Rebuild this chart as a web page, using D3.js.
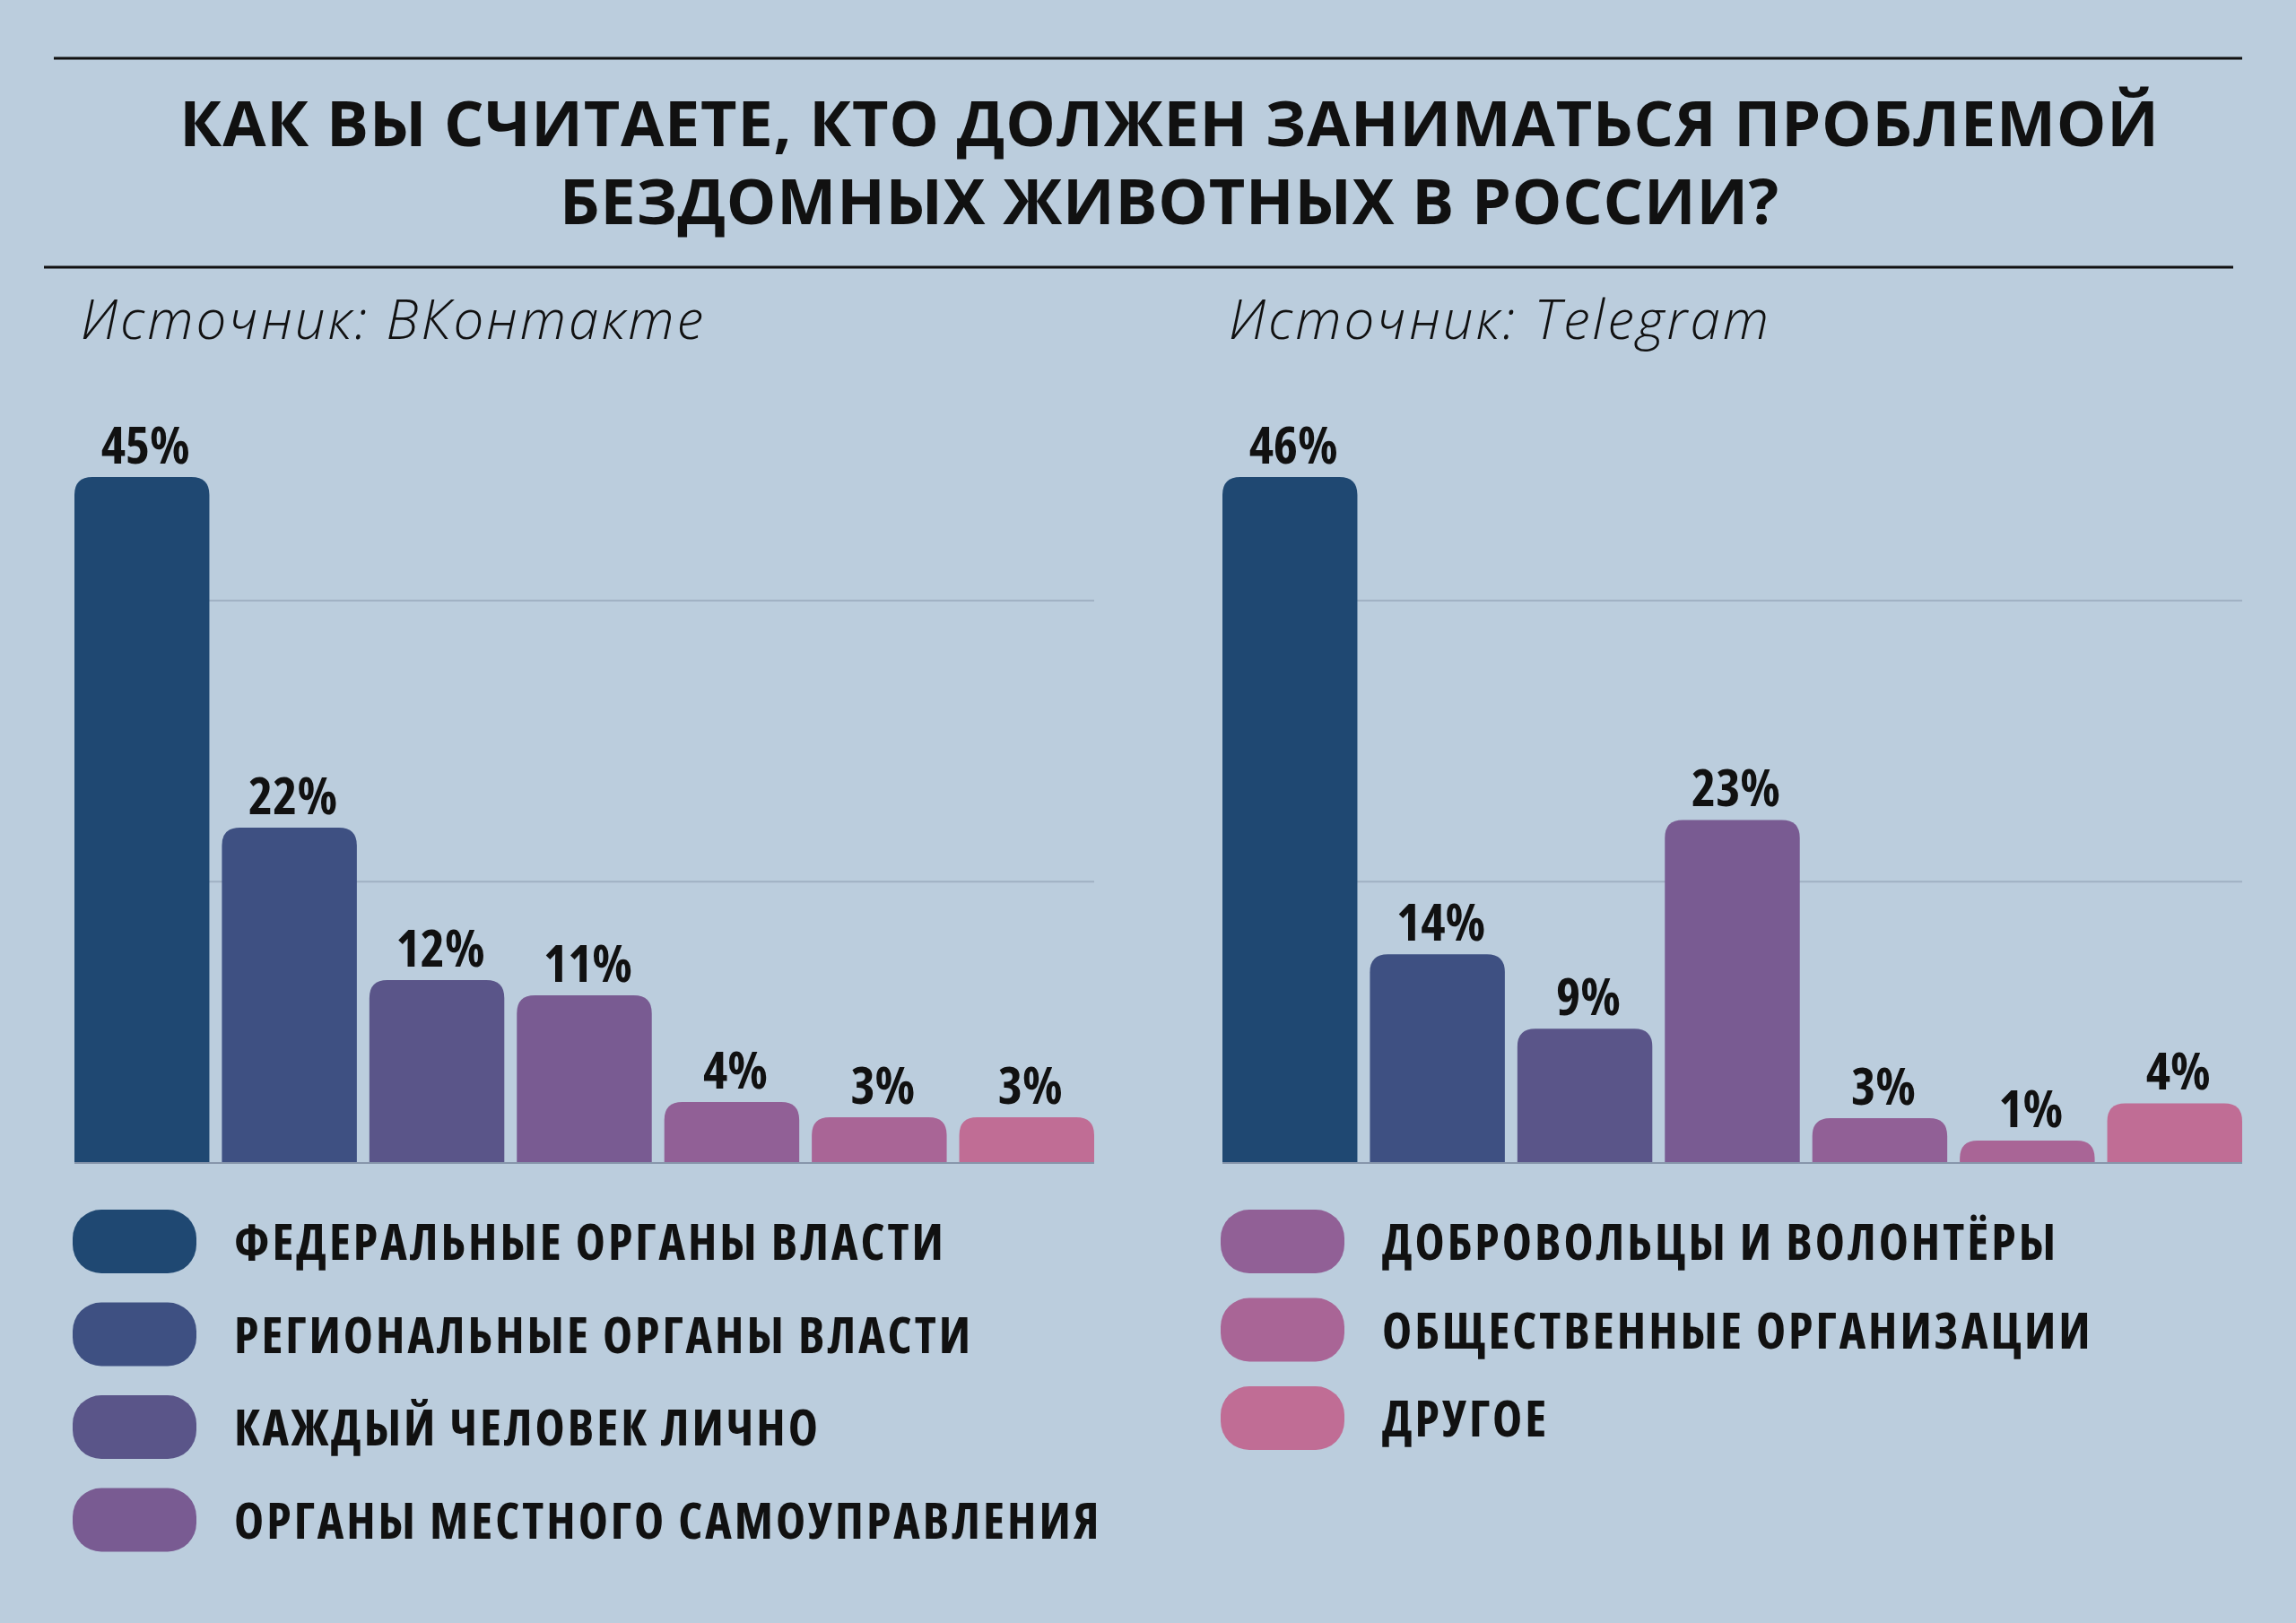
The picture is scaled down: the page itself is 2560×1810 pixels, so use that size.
<!DOCTYPE html>
<html>
<head>
<meta charset="utf-8">
<script src="https://cdn.jsdelivr.net/npm/d3@7"></script>
<style>
  body { margin: 0; background: #bbcddd; }
  svg { display: block; }
</style>
</head>
<body>
<div id="chart"></div>
<script>
// data
const categories = [
  "ФЕДЕРАЛЬНЫЕ ОРГАНЫ ВЛАСТИ",
  "РЕГИОНАЛЬНЫЕ ОРГАНЫ ВЛАСТИ",
  "КАЖДЫЙ ЧЕЛОВЕК ЛИЧНО",
  "ОРГАНЫ МЕСТНОГО САМОУПРАВЛЕНИЯ",
  "ДОБРОВОЛЬЦЫ И ВОЛОНТЁРЫ",
  "ОБЩЕСТВЕННЫЕ ОРГАНИЗАЦИИ",
  "ДРУГОЕ"
];
const colors = ["#1f4872", "#3e5082", "#5a5589", "#795b92", "#916096", "#a96596", "#c06d95"];
const vkValues = [45, 22, 12, 11, 4, 3, 3];
const tgValues = [46, 14, 9, 23, 3, 1, 4];
const sourceNames = ["ВКонтакте", "Telegram"];
const titleLines = [
  "КАК ВЫ СЧИТАЕТЕ, КТО ДОЛЖЕН ЗАНИМАТЬСЯ ПРОБЛЕМОЙ",
  "БЕЗДОМНЫХ ЖИВОТНЫХ В РОССИИ?"
];
const legendColumns = [[0, 1, 2, 3], [4, 5, 6]];

const W = 2560, H = 1810;
const condensed = "'Open Sans', 'Liberation Sans Narrow', sans-serif";

const svg = d3.select("#chart").append("svg")
  .attr("width", W)
  .attr("height", H);

svg.append("rect").attr("width", W).attr("height", H).attr("fill", "#bbcddd");

// title + rules
svg.append("line").attr("x1", 60).attr("x2", 2500).attr("y1", 65).attr("y2", 65)
  .attr("stroke", "#111").attr("stroke-width", 3);
svg.append("line").attr("x1", 49).attr("x2", 2490).attr("y1", 298).attr("y2", 298)
  .attr("stroke", "#111").attr("stroke-width", 3);

svg.selectAll(".title")
  .data(titleLines)
  .enter()
  .append("text")
  .attr("class", "title")
  .attr("x", 1304)
  .attr("y", (d, i) => 163 + i * 87)
  .attr("text-anchor", "middle")
  .style("font-family", "'Open Sans', sans-serif")
  .style("font-weight", "bold")
  .style("font-size", "70px")
  .style("letter-spacing", "0.8px")
  .style("fill", "#111")
  .text(d => d);

// panels
const panels = [
  { name: sourceNames[0], values: vkValues, x0: 83, x1: 1220, rowStep: 103.5 },
  { name: sourceNames[1], values: tgValues, x0: 1363, x1: 2500, rowStep: 98.5 }
];

const baseY = 1297;
const plotH = 941;

panels.forEach((p, pi) => {
  const g = svg.append("g");

  const x = d3.scaleBand()
    .domain(d3.range(p.values.length))
    .range([p.x0, p.x1])
    .paddingInner(0.085)
    .paddingOuter(0);

  const yTop = d3.max(p.values) / 0.813;
  const y = d3.scaleLinear().domain([0, yTop]).range([baseY, baseY - plotH]);

  // subtitle
  g.append("text")
    .attr("x", p.x0 + 7)
    .attr("y", 378)
    .style("font-family", condensed)
    .style("font-style", "italic")
    .style("font-weight", 300)
    .style("font-size", "60px")
    .style("letter-spacing", "3px")
    .style("fill", "#111")
    .text("Источник: " + p.name);

  // gridlines
  g.selectAll(".grid")
    .data([yTop / 3, yTop * 2 / 3])
    .enter()
    .append("line")
    .attr("x1", p.x0).attr("x2", p.x1)
    .attr("y1", d => y(d)).attr("y2", d => y(d))
    .attr("stroke", "#a0b1c3")
    .attr("stroke-width", 2);

  // bars with rounded top corners
  const r = 20;
  g.selectAll(".bar")
    .data(p.values)
    .enter()
    .append("path")
    .attr("class", "bar")
    .attr("fill", (d, i) => colors[i])
    .attr("d", (d, i) => {
      const bx = x(i), bw = x.bandwidth();
      const h = Math.max(baseY - y(d), 25);
      const top = baseY - h;
      const rr = Math.min(r, h);
      return `M${bx},${baseY}V${top + rr}Q${bx},${top} ${bx + rr},${top}` +
        `H${bx + bw - rr}Q${bx + bw},${top} ${bx + bw},${top + rr}V${baseY}Z`;
    });

  // baseline
  g.append("line")
    .attr("x1", p.x0).attr("x2", p.x1)
    .attr("y1", baseY).attr("y2", baseY)
    .attr("stroke", "#8796ab")
    .attr("stroke-width", 2);

  // value labels
  g.selectAll(".value-label")
    .data(p.values)
    .enter()
    .append("text")
    .attr("class", "value-label")
    .attr("x", (d, i) => x(i) + x.bandwidth() / 2 + 4)
    .attr("y", d => baseY - Math.max(baseY - y(d), 25) - 15)
    .attr("text-anchor", "middle")
    .style("font-family", condensed)
    .style("font-weight", "bold")
    .style("font-stretch", "75%")
    .style("font-size", "58px")
    .style("fill", "#111")
    .text(d => d + "%");

  // legend column
  const items = legendColumns[pi];
  const lg = g.selectAll(".legend")
    .data(items)
    .enter()
    .append("g")
    .attr("transform", (d, i) => `translate(${p.x0 - 2},${1384 + i * p.rowStep})`);

  lg.append("rect")
    .attr("x", 0).attr("y", -35)
    .attr("width", 138).attr("height", 71)
    .attr("rx", 32)
    .attr("fill", d => colors[d]);

  lg.append("text")
    .attr("x", 180)
    .attr("y", 21)
    .style("font-family", condensed)
    .style("font-weight", "bold")
    .style("font-stretch", "75%")
    .style("font-size", "56px")
    .style("letter-spacing", "3px")
    .style("fill", "#111")
    .text(d => categories[d]);
});
</script>
</body>
</html>
